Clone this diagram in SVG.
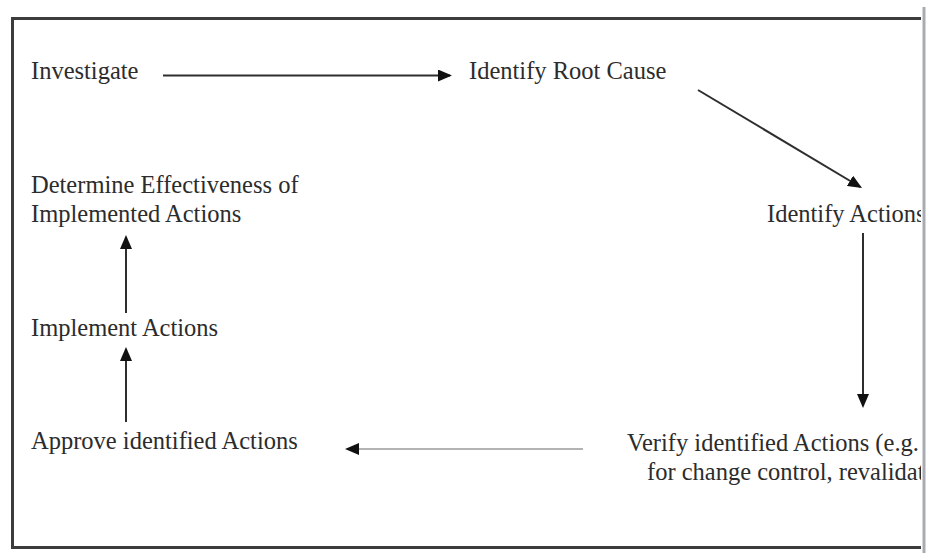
<svg xmlns="http://www.w3.org/2000/svg" width="927" height="553" viewBox="0 0 927 553">
  <style>
    .label { font-family: "Liberation Serif", "Times New Roman", serif; font-size: 24.5px; fill: #2c2c2c; }
    .frame { stroke: #3c3c3c; stroke-width: 3; fill: none; }
    .edge { stroke: #2e2e2e; stroke-width: 2; fill: none; }
    .edge-light { stroke: #9a9a9a; stroke-width: 1.6; fill: none; }
  </style>
  <defs>
    <marker id="head" markerUnits="userSpaceOnUse" markerWidth="14" markerHeight="12" viewBox="0 0 14 12" refX="12" refY="6" orient="auto">
      <path d="M0,0 L14,6 L0,12 Z" fill="#111"/>
    </marker>
  </defs>

  <rect width="927" height="553" fill="#ffffff"/>

  <g id="investigate">
    <text class="label" x="31" y="79">Investigate</text>
  </g>
  <g id="identify-root-cause">
    <text class="label" x="469" y="79">Identify Root Cause</text>
  </g>
  <g id="identify-actions">
    <text class="label" x="767" y="222">Identify Actions</text>
  </g>
  <g id="verify-actions">
    <text class="label" x="627" y="451">Verify identified Actions (e.g.</text>
    <text class="label" x="647" y="480">for change control, revalidat</text>
  </g>
  <g id="approve-actions">
    <text class="label" x="31" y="449">Approve identified Actions</text>
  </g>
  <g id="implement-actions">
    <text class="label" x="31" y="336">Implement Actions</text>
  </g>
  <g id="determine-effectiveness">
    <text class="label" x="31" y="193">Determine Effectiveness of</text>
    <text class="label" x="31" y="222">Implemented Actions</text>
  </g>

  <!-- connectors -->
  <g id="connectors">
    <line class="edge" x1="163" y1="75.5" x2="450" y2="75.5" marker-end="url(#head)"/>
    <line class="edge" x1="698" y1="90" x2="860.3" y2="187" marker-end="url(#head)"/>
    <line class="edge" x1="863" y1="233" x2="863" y2="406" marker-end="url(#head)"/>
    <line class="edge-light" x1="583" y1="449" x2="347" y2="449" marker-end="url(#head)"/>
    <line class="edge" x1="126" y1="422" x2="126" y2="349" marker-end="url(#head)"/>
    <line class="edge" x1="126" y1="313" x2="126" y2="237" marker-end="url(#head)"/>
  </g>

  <!-- page frame, drawn last so its right edge sits over the text -->
  <g id="frame">
    <path class="frame" d="M922,18.5 H12.5 V547.5 H922"/>
    <rect x="921" y="7" width="6" height="546" fill="#ffffff"/>
    <line x1="924" y1="7" x2="924" y2="553" stroke="#a7acb1" stroke-width="3"/>
  </g>
</svg>
